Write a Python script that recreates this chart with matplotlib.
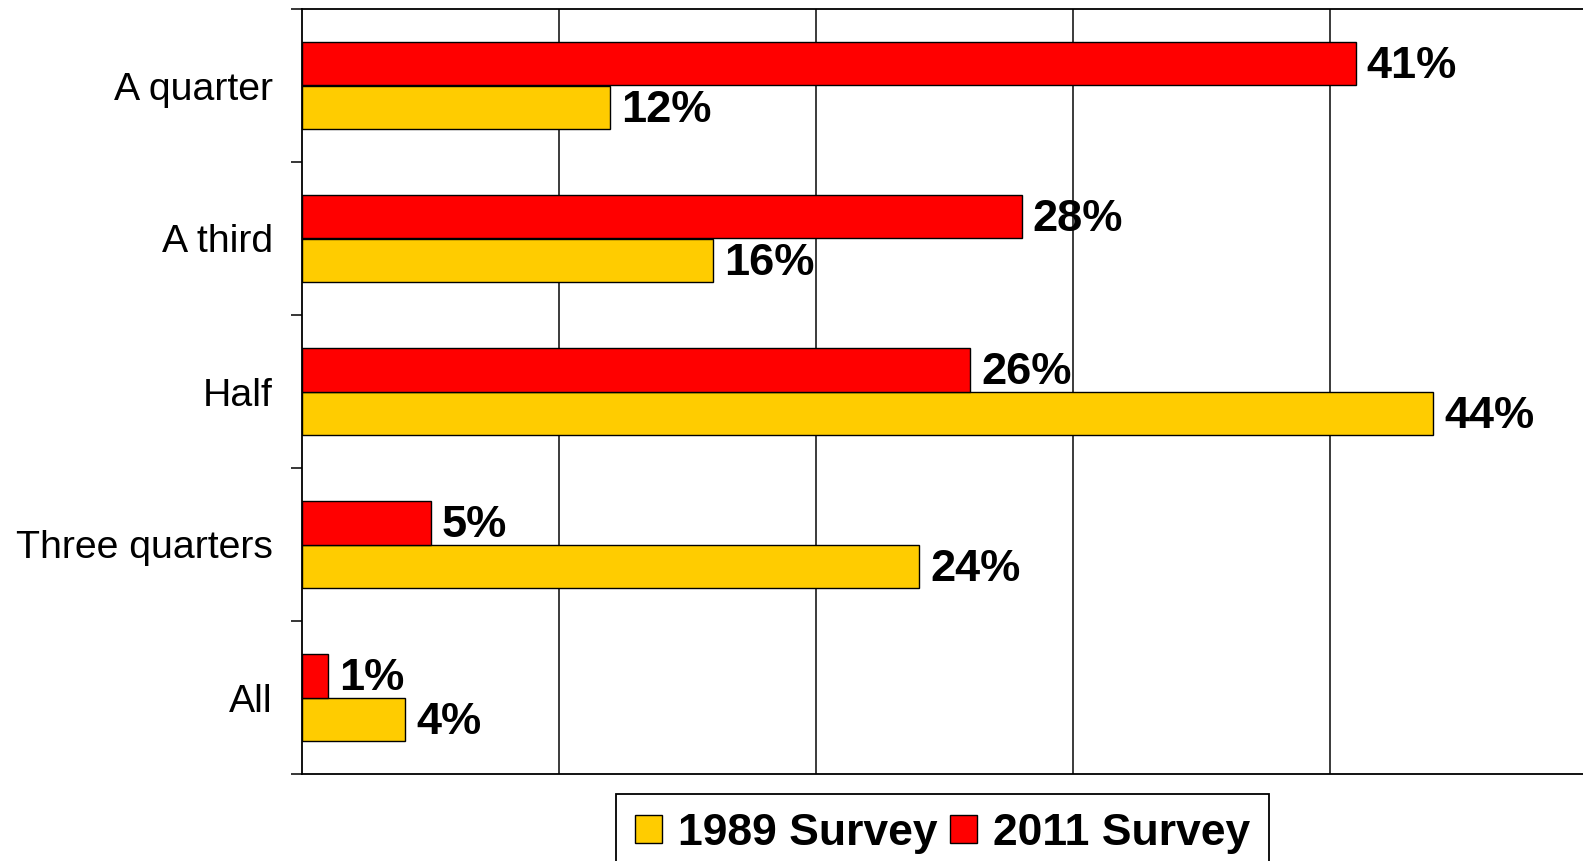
import matplotlib
matplotlib.use("Agg")
import matplotlib.pyplot as plt
import numpy as np

categories = ["A quarter", "A third", "Half", "Three quarters", "All"]
survey_2011 = [41, 28, 26, 5, 1]
survey_1989 = [12, 16, 44, 24, 4]
series_names = ["1989 Survey", "2011 Survey"]

plt.rcParams['font.family'] = ['Liberation Sans', 'DejaVu Sans']

W, H = 1583, 861
fig = plt.figure(figsize=(W / 100, H / 100), dpi=100)
left, right, top, bottom = 302, 1587, 9, 774
ax = fig.add_axes([left / W, 1 - bottom / H, (right - left) / W, (bottom - top) / H])

y = np.arange(len(categories))
h = 0.285
red = "#FF0000"
gold = "#FFCC00"

b1989 = ax.barh(y + h / 2, survey_1989, height=h, color=gold, edgecolor="black",
                linewidth=1.0, label=series_names[0], zorder=3)
b2011 = ax.barh(y - h / 2, survey_2011, height=h, color=red, edgecolor="black",
                linewidth=1.0, label=series_names[1], zorder=3)

for bars, vals in ((b2011, survey_2011), (b1989, survey_1989)):
    for rect, v in zip(bars, vals):
        ax.annotate(f"{v}%", (rect.get_width(), rect.get_y() + rect.get_height() / 2),
                    xytext=(8, -2), textcoords="offset points", va="center", ha="left",
                    fontsize=32.5, fontweight="bold", color="black", zorder=4)

ax.set_xlim(0, 50)
ax.set_ylim(len(categories) - 0.5, -0.5)
ax.set_xticks([10, 20, 30, 40])
ax.xaxis.grid(True, color="#1a1a1a", linewidth=1.2, zorder=0)
ax.tick_params(axis="x", length=0, labelbottom=False)

ax.set_yticks(y)
ax.set_yticklabels(categories, fontsize=28.3)
ax.set_yticks(np.arange(-0.5, len(categories)), minor=True)
ax.tick_params(axis="y", which="major", length=0, pad=21)
ax.tick_params(axis="y", which="minor", length=8, width=1.1, direction="out", color="black")

for s in ["left", "top", "bottom"]:
    ax.spines[s].set_linewidth(1.3)
    ax.spines[s].set_color("black")
ax.spines["right"].set_visible(False)

leg = fig.legend(handles=[b1989, b2011], labels=series_names, loc="upper left",
                 bbox_to_anchor=(616 / W, 1 - 794 / H), ncol=2, frameon=True,
                 fancybox=False, edgecolor="black", framealpha=1,
                 prop={"size": 32, "weight": "bold"},
                 handlelength=0.62, handleheight=0.62, handletextpad=0.35,
                 columnspacing=0.28, borderpad=0.42, borderaxespad=0)
leg.get_frame().set_linewidth(1.3)

fig.savefig("out.png", dpi=100)
